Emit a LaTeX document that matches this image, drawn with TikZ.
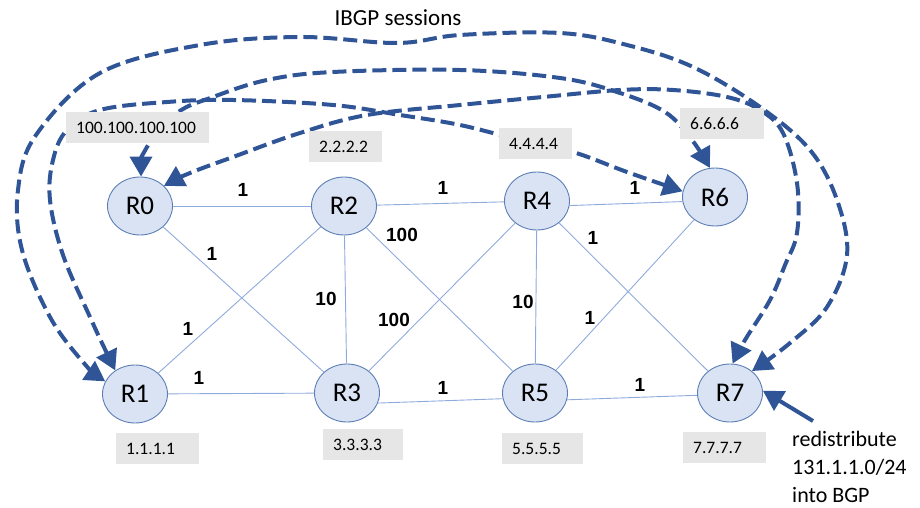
\documentclass[tikz,border=0pt]{standalone}
\usepackage{fontspec}
\setmainfont{Carlito}
\newfontfamily\arialfont{Liberation Sans}
\usetikzlibrary{shapes.geometric,arrows.meta}
\definecolor{nodefill}{HTML}{DAE3F3}
\definecolor{nodeline}{HTML}{5B7DB5}
\definecolor{linkcol}{HTML}{8FAADC}
\definecolor{ibgpcol}{HTML}{2F5597}
\definecolor{boxfill}{HTML}{E7E6E6}
\begin{document}
\begin{tikzpicture}[x=1pt,y=-1pt,
  router/.style={ellipse, draw=nodeline, line width=0.9pt, fill=nodefill,
    minimum width=65pt, minimum height=58pt, inner sep=0pt,
    font=\fontsize{27}{27}\selectfont},
  link/.style={draw=linkcol, line width=0.9pt},
  wt/.style={font=\arialfont\bfseries\fontsize{19}{19}\selectfont, inner sep=0pt},
  ipbox/.style={fill=boxfill, anchor=north west, minimum height=31pt,
    inner xsep=10pt, inner ysep=0pt, align=left, text width=#1,
    font=\fontsize{17.5}{17.5}\selectfont},
  ibgp/.style={draw=ibgpcol, line width=4pt, dash pattern=on 14pt off 6pt,
    arrows={Triangle[length=20pt,width=22pt]-Triangle[length=20pt,width=22pt]}},
  redarrow/.style={draw=ibgpcol, line width=4pt,
    arrows={-Triangle[length=20pt,width=22pt]}},
]
\useasboundingbox (0,0) rectangle (920,508);

% routers
\node[router] (R0) at (140,206) {R0};
\node[router] (R2) at (344,206) {R2};
\node[router] (R4) at (537,201) {R4};
\node[router] (R6) at (715,197) {R6};
\node[router] (R1) at (135,394) {R1};
\node[router] (R3) at (347,393) {R3};
\node[router] (R5) at (535,393) {R5};
\node[router] (R7) at (730,393) {R7};

% links
\draw[link] (R0) -- (R2);
\draw[link] (R2) -- (R4);
\draw[link] (R4.-8) -- (R6.188);
\draw[link] (R1) -- (R3);
\draw[link] (R3.-18) -- (R5.190);
\draw[link] (R5.-12) -- (R7.184);
\draw[link] (R0) -- (R3);
\draw[link] (R1) -- (R2);
\draw[link] (R2) -- (R3);
\draw[link] (R2) -- (R5);
\draw[link] (R4) -- (R3);
\draw[link] (R4) -- (R5);
\draw[link] (R4) -- (R7);
\draw[link] (R6) -- (R5);

% weights
\node[wt] (w02) at (243,190) {1};
\node[wt] (w24) at (443,188) {1};
\node[wt] (w46) at (635,188) {1};
\node[wt] (w03) at (212,254) {1};
\node[wt] (w25) at (402,235) {100};
\node[wt] (w12) at (188,329) {1};
\node[wt] (w23) at (326,299) {10};
\node[wt] (w34) at (394,320) {100};
\node[wt] (w47) at (593,238) {1};
\node[wt] (w45) at (523,302) {10};
\node[wt] (w56) at (590,318) {1};
\node[wt] (w13) at (199,378) {1};
\node[wt] (w35) at (443,388) {1};
\node[wt] (w57) at (640,385) {1};

% IBGP sessions
\draw[ibgp] plot[smooth, tension=0.6] coordinates {(R1.157) (83,362) (50,317) (22,250) (18,190) (36,135) (100,73) (200,45) (300,37) (397,43) (460,35) (560,33) (627,45) (693,67) (760,107) (810,150) (837,200) (847,255) (827,307) (790,343) (R7.45)};
\draw[ibgp] plot[smooth, tension=0.6] coordinates {(R0.88) (147,147) (177,113) (213,97) (267,80) (333,72) (460,70) (560,78) (617,92) (665,112) (692,140) (R6.100)};
\draw[ibgp] plot[smooth, tension=0.6] coordinates {(R1.130) (90,317) (63,255) (50,200) (53,160) (67,130) (100,110) (167,102) (233,100) (333,105) (400,115) (460,125) (520,140) (573,152) (627,172) (R6.170)};
\draw[ibgp] plot[smooth, tension=0.6] coordinates {(R0.40) (190,173) (233,157) (300,133) (367,115) (460,105) (543,97) (620,90) (673,90) (727,97) (760,110) (783,133) (797,183) (797,233) (785,265) (770,300) (745,340) (R7.85)};

% address boxes
\node[ipbox=123pt] (a0) at (66,112) {100.100.100.100};
\node[ipbox=53pt] (a2) at (309,131) {2.2.2.2};
\node[ipbox=53pt] (a4) at (499,128) {4.4.4.4};
\node[ipbox=64pt] (a6) at (680,108) {6.6.6.6};
\node[ipbox=63pt] (a1) at (116,433) {1.1.1.1};
\node[ipbox=60pt] (a3) at (323,429) {3.3.3.3};
\node[ipbox=61pt] (a5) at (502,433) {5.5.5.5};
\node[ipbox=63pt] (a7) at (683,432) {7.7.7.7};

% title
\node[font=\fontsize{23}{23}\selectfont] (title) at (398,18) {IBGP sessions};

% redistribution
\node[anchor=north west, align=left, inner sep=0pt, font=\fontsize{22}{28}\selectfont] (redist) at (792,431) {redistribute\\131.1.1.0/24\\into BGP};
\coordinate (rstart) at (813,421);
\draw[redarrow] (rstart) -- (R7.4);
\end{tikzpicture}
\end{document}
